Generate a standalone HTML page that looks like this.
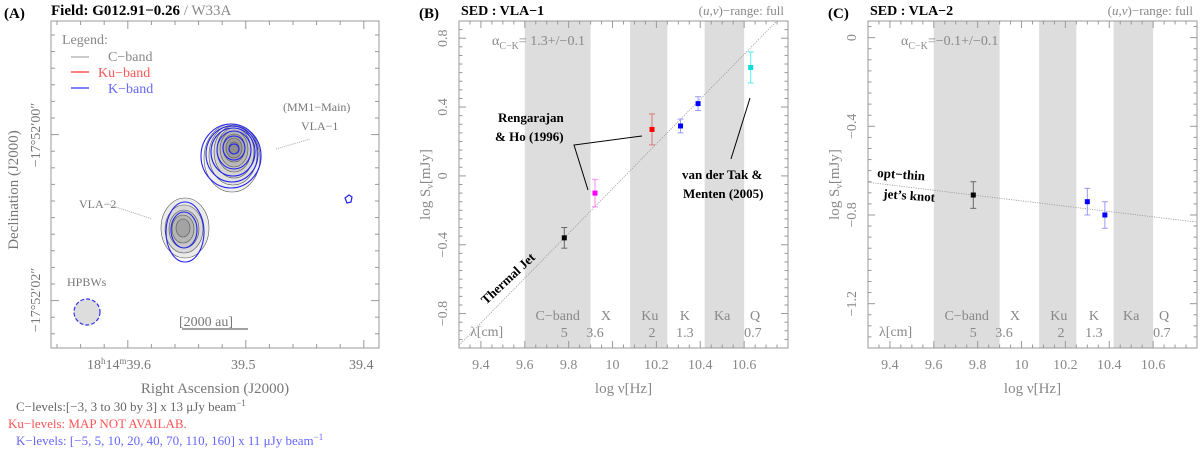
<!DOCTYPE html>
<html><head><meta charset="utf-8"><style>
html,body{margin:0;padding:0;background:#fff;}
svg{display:block;font-family:"Liberation Serif",serif;}
</style></head><body>
<svg id="fig" width="1200" height="450" viewBox="0 0 1200 450">
<g>
<text x="4" y="18" font-size="15" font-weight="bold" fill="#000">(A)</text>
<text x="51" y="15" font-size="15" font-weight="bold" fill="#000">Field: G012.91−0.26 <tspan fill="#888" font-weight="normal">/ W33A</tspan></text>
<rect x="51" y="21" width="328" height="327" fill="none" stroke="#999" stroke-width="1"/>
<g id="mapTicks"></g>
<text x="62" y="44" font-size="14" fill="#888">Legend:</text>
<line x1="71" y1="57" x2="89" y2="57" stroke="#aaa" stroke-width="1.2"/>
<text x="108" y="61" font-size="14" fill="#888">C−band</text>
<line x1="71" y1="72" x2="89" y2="72" stroke="#f33" stroke-width="1.2"/>
<text x="98" y="77" font-size="14" fill="#f55">Ku−band</text>
<line x1="71" y1="88" x2="89" y2="88" stroke="#33f" stroke-width="1.2"/>
<text x="108" y="93" font-size="14" fill="#66f">K−band</text>
<g id="contours"></g>
<path d="M345,198 l4,-3 l3,2 l-1,5 l-4,1z" fill="none" stroke="#22e" stroke-width="1.2"/>
<text x="283" y="111" font-size="12" fill="#777">(MM1−Main)</text>
<text x="301" y="130" font-size="12" fill="#777">VLA−1</text>
<line x1="276" y1="149" x2="310" y2="139" stroke="#aaa" stroke-dasharray="1,1"/>
<text x="79" y="208" font-size="12" fill="#777">VLA−2</text>
<line x1="110" y1="205" x2="152" y2="219" stroke="#aaa" stroke-dasharray="1,1"/>
<text x="67" y="286" font-size="12" fill="#777">HPBWs</text>
<circle cx="87" cy="312" r="13" fill="#ddd" stroke="#33e" stroke-width="1.2" stroke-dasharray="4,2"/>
<text x="179" y="326" font-size="14" fill="#777">[2000 au]</text>
<line x1="182" y1="329" x2="248" y2="329" stroke="#444" stroke-width="1"/>
<text x="87" y="369" font-size="14" fill="#777">18<tspan dy="-5" font-size="9">h</tspan><tspan dy="5">14</tspan><tspan dy="-5" font-size="9">m</tspan><tspan dy="5">39.6</tspan></text>
<text x="231" y="369" font-size="14" fill="#777">39.5</text>
<text x="349" y="369" font-size="14" fill="#777">39.4</text>
<text x="215" y="393" text-anchor="middle" font-size="15" fill="#777">Right Ascension (J2000)</text>
<text transform="translate(18,190) rotate(-90)" text-anchor="middle" font-size="15" fill="#777">Declination (J2000)</text>
<text transform="translate(40,135) rotate(-90)" text-anchor="middle" font-size="14" fill="#777">−17°52′00″</text>
<text transform="translate(40,300) rotate(-90)" text-anchor="middle" font-size="14" fill="#777">−17°52′02″</text>
<text x="16" y="411" font-size="13" fill="#666">C−levels:[−3, 3 to 30 by 3] x 13 μJy beam<tspan dy="-5" font-size="9">−1</tspan></text>
<text x="8" y="428" font-size="13" fill="#f55">Ku−levels:   MAP NOT AVAILAB.</text>
<text x="16" y="445" font-size="13" fill="#66f">K−levels: [−5, 5, 10, 20, 40, 70, 110, 160] x 11 μJy beam<tspan dy="-5" font-size="9">−1</tspan></text>
</g>
<g id="panelB"></g>
<g id="panelC"></g>
</svg>
<script>
const NS='http://www.w3.org/2000/svg';
function mk(parent,tag,attrs,text){const e=document.createElementNS(NS,tag);for(const k in attrs)e.setAttribute(k,attrs[k]);if(text!==undefined)e.textContent=text;parent.appendChild(e);return e;}

// ---- Data: panel B (VLA-1)
const bFreq=[9.78,9.92,10.18,10.31,10.39,10.63];
const bFlux=[-0.36,-0.10,0.27,0.29,0.42,0.63];
const bErr=[0.06,0.08,0.09,0.04,0.04,0.09];
const bColors=['#000','#f0f','#f00','#00f','#00f','#0dd'];
const bErrColors=['#666','#f8f','#d77','#99f','#99f','#5ee'];
const bFitSlope=1.3, bFitAnchor=[9.78,-0.36];
const bYTicks=[-0.8,-0.4,0,0.4,0.8];
// ---- Data: panel C (VLA-2)
const cFreq=[9.78,10.30,10.38];
const cFlux=[-0.71,-0.74,-0.80];
const cErr=[0.06,0.06,0.06];
const cColors=['#000','#00f','#00f'];
const cErrColors=['#666','#99f','#99f'];
const cFitSlope=-0.12, cFitAnchor=[9.78,-0.71];
const cYTicks=[-1.2,-0.8,-0.4,0];
// shared
const xTicks=[9.4,9.6,9.8,10,10.2,10.4,10.6];
const bands=[[9.6,9.9],[10.08,10.25],[10.42,10.6]];
const bandNames=['C−band','X','Ku','K','Ka','Q'];
const bandNameX=[9.75,9.97,10.17,10.33,10.5,10.65];
const lambdas=['5','3.6','2','1.3','0.7'];
const lambdaX=[9.78,9.92,10.18,10.33,10.64];

function panel(g,o){
  const L=o.x0,R=o.x0+329,T=21,B=348;
  const xs=v=>L+(v-9.3)/(10.8-9.3)*(R-L);
  const ys=v=>B-(v-o.ymin)/(o.ymax-o.ymin)*(B-T);
  bands.forEach((b,i)=>{const r=mk(g,'rect',{x:xs(b[0]),y:T,width:xs(b[1])-xs(b[0]),height:B-T,fill:'#ddd'});
    
    });
  for(let v=9.3;v<=10.801;v+=0.05){const big=Math.abs(v*10-Math.round(v*10))<0.01&&Math.round(v*10)%2===0;const x=xs(v);const len=big?7:3.5;
    mk(g,'line',{x1:x,y1:B,x2:x,y2:B-len,stroke:'#999'});mk(g,'line',{x1:x,y1:T,x2:x,y2:T+len,stroke:'#999'});}
  for(let v=o.ymin;v<=o.ymax+1e-6;v+=0.05){const y=ys(v);const big=Math.abs(v*10-Math.round(v*10))<0.01&&Math.round(v*10)%4===0;const len=big?7:3.5;
    mk(g,'line',{x1:L,y1:y,x2:L+len,y2:y,stroke:'#999'});mk(g,'line',{x1:R,y1:y,x2:R-len,y2:y,stroke:'#999'});}
  const fr=mk(g,'rect',{x:L,y:T,width:R-L,height:B-T,fill:'none',stroke:'#999'});
  
  
  xTicks.forEach(v=>{const t=mk(g,'text',{x:xs(v),y:369,'text-anchor':'middle','font-size':14,fill:'#888'},String(v));
    
    });
  o.yTicks.forEach(v=>{const y=ys(v);const t=mk(g,'text',{transform:`translate(${L-12},${y}) rotate(-90)`,'text-anchor':'middle','font-size':14,fill:'#888'},v===0?'0':String(v).replace('-','−'));
    
    });
  const xt=mk(g,'text',{x:(L+R)/2,y:393,'text-anchor':'middle','font-size':15,fill:'#888'},'log ν[Hz]');
  
  
  const yt=mk(g,'text',{transform:`translate(${L-29},${(T+B)/2}) rotate(-90)`,'text-anchor':'middle','font-size':15,fill:'#888'});
  yt.innerHTML='log S<tspan font-size="10" dy="3">ν</tspan><tspan dy="-3">[mJy]</tspan>';
  
  
  bandNames.forEach((n,i)=>{const t=mk(g,'text',{x:xs(bandNameX[i]),y:320,'text-anchor':'middle','font-size':14,fill:'#888'},n);
    
    });
  const lc=mk(g,'text',{x:L+11,y:336,'font-size':14,fill:'#888'},'λ[cm]');
  
  
  lambdas.forEach((n,i)=>{const t=mk(g,'text',{x:xs(lambdaX[i]),y:337,'text-anchor':'middle','font-size':14,fill:'#888'},n);
    
    });
  const f=v=>o.fitA[1]+o.slope*(v-o.fitA[0]);
  let x2=10.8,y2=f(10.8);if(y2>o.ymax){x2=o.fitA[0]+(o.ymax-o.fitA[1])/o.slope;y2=o.ymax;}
  const fl=mk(g,'line',{x1:xs(9.3),y1:ys(f(9.3)),x2:xs(x2),y2:ys(y2),stroke:'#999','stroke-width':0.8,'stroke-dasharray':'1.2,1.2'});
  
  
  o.freq.forEach((v,i)=>{const x=xs(v),y=ys(o.flux[i]),y1=ys(o.flux[i]+o.err[i]),y0=ys(o.flux[i]-o.err[i]);
    const eg=mk(g,'g',{stroke:o.ec[i],'stroke-width':1});
    
    
    mk(eg,'line',{x1:x,y1:y0,x2:x,y2:y1});mk(eg,'line',{x1:x-3,y1:y0,x2:x+3,y2:y0});mk(eg,'line',{x1:x-3,y1:y1,x2:x+3,y2:y1});
    const p=mk(g,'rect',{x:x-2.5,y:y-2.5,width:5,height:5,fill:o.col[i]});
    
    });
  const lab=mk(g,'text',{x:L-40,y:18,'font-size':15,'font-weight':'bold',fill:'#000'},o.label);
  
  
  const ti=mk(g,'text',{x:L+2,y:15,'font-size':14,'font-weight':'bold',fill:'#000'},o.title);
  
  
  const uv=mk(g,'text',{x:R-4,y:15,'text-anchor':'end','font-size':13,fill:'#888'});
  uv.innerHTML='(<tspan font-style="italic">u,v</tspan>)−range: full';
  
  
  const al=mk(g,'text',{x:L+33,y:45,'font-size':14,fill:'#888'});
  al.innerHTML='α<tspan font-size="10" dy="4">C−K</tspan><tspan dy="-4">'+o.alpha+'</tspan>';
  
  
  return {xs,ys};
}
panel(document.getElementById('panelB'),{x0:459,ymin:-1.0,ymax:0.9,yTicks:bYTicks,freq:bFreq,flux:bFlux,err:bErr,col:bColors,ec:bErrColors,slope:bFitSlope,fitA:bFitAnchor,label:'(B)',title:'SED : VLA−1',alpha:'=  1.3+/−0.1'});
panel(document.getElementById('panelC'),{x0:868,ymin:-1.4,ymax:0.075,yTicks:cYTicks,freq:cFreq,flux:cFlux,err:cErr,col:cColors,ec:cErrColors,slope:cFitSlope,fitA:cFitAnchor,label:'(C)',title:'SED : VLA−2',alpha:'=−0.1+/−0.1'});

const gb=document.getElementById('panelB');
let t=mk(gb,'text',{x:498,y:122,'font-size':13,'font-weight':'bold',fill:'#000'},'Rengarajan');


t=mk(gb,'text',{x:495,y:141,'font-size':13,'font-weight':'bold',fill:'#000'},'& Ho (1996)');


let pl=mk(gb,'polyline',{points:'642,136 574,145 588,190',fill:'none',stroke:'#000','stroke-width':1});


t=mk(gb,'text',{x:682,y:179,'font-size':13,'font-weight':'bold',fill:'#000'},'van der Tak &');


t=mk(gb,'text',{x:683,y:198,'font-size':13,'font-weight':'bold',fill:'#000'},'Menten (2005)');


pl=mk(gb,'line',{x1:750,y1:98,x2:731,y2:159,stroke:'#000','stroke-width':1});


t=mk(gb,'text',{transform:'translate(486,305) rotate(-43)','font-size':13,'font-weight':'bold',fill:'#000'},'Thermal Jet');


const gc=document.getElementById('panelC');
t=mk(gc,'text',{transform:'translate(877,177) rotate(4)','font-size':13,'font-weight':'bold',fill:'#000'},'opt−thin');


t=mk(gc,'text',{transform:'translate(883,198) rotate(4)','font-size':13,'font-weight':'bold',fill:'#000'},'jet\u2019s knot');



const mt=document.getElementById('mapTicks');
for(let x=57;x<379;x+=23.6){const big=[128,246,365].some(m=>Math.abs(m-x)<4);const len=big?8:4;
  mk(mt,'line',{x1:x,y1:348,x2:x,y2:348-len,stroke:'#999'});mk(mt,'line',{x1:x,y1:21,x2:x,y2:21+len,stroke:'#999'});}
for(let y=35;y<348;y+=16.6){const big=[135,300].some(m=>Math.abs(m-y)<4);const len=big?8:4;
  mk(mt,'line',{x1:51,y1:y,x2:51+len,y2:y,stroke:'#999'});mk(mt,'line',{x1:379,y1:y,x2:379-len,y2:y,stroke:'#999'});}

const cg=document.getElementById('contours');
const vla1=[[232,158,28,34],[233,155,24,30],[234,152,20,26],[234,150,17,22],[234,149,14,18],[234,148,11,14],[234,148,8,10],[234,148,5,6]];
vla1.forEach((c,i)=>{const e=mk(cg,'ellipse',{cx:c[0],cy:c[1],rx:c[2],ry:c[3],fill:`rgb(${240-i*14},${240-i*14},${240-i*14})`,stroke:'#555','stroke-width':0.6});
  
  });
const vla1k=[[231,156,30,32],[232,154,26,28],[233,152,22,24],[234,150,17,19],[234,148,11,12],[234,149,5,5]];
vla1k.forEach(c=>{const e=mk(cg,'ellipse',{cx:c[0],cy:c[1],rx:c[2],ry:c[3],fill:'none',stroke:'#22e','stroke-width':1.1});
  
  });
const vla2=[[185,228,24,30],[184,229,19,24],[184,229,15,19],[183,229,11,14],[183,228,7,9]];
vla2.forEach((c,i)=>{const e=mk(cg,'ellipse',{cx:c[0],cy:c[1],rx:c[2],ry:c[3],fill:`rgb(${235-i*18},${235-i*18},${235-i*18})`,stroke:'#555','stroke-width':0.6});
  
  });
const vla2k=[[185,232,19,30],[184,230,13,18]];
vla2k.forEach(c=>{const e=mk(cg,'ellipse',{cx:c[0],cy:c[1],rx:c[2],ry:c[3],fill:'none',stroke:'#22e','stroke-width':1.1});
  
  });
</script>
</body></html>
